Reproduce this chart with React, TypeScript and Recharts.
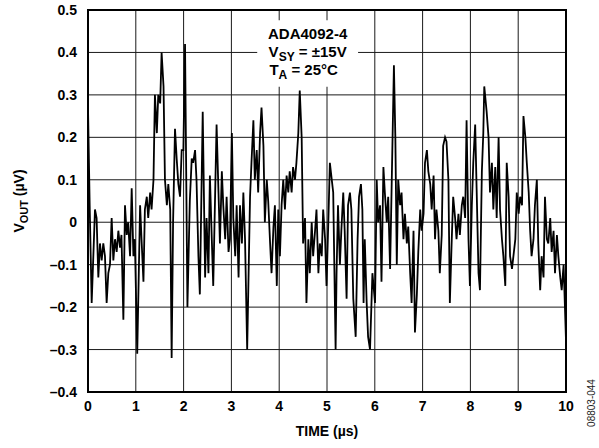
import { CartesianGrid, Label, Line, LineChart, ReferenceArea, XAxis, YAxis } from "recharts";

// VOUT trace (time in µs, voltage in µV) in five slices
const trace0to2: [number, number][] = [
  [0.0, 0.27], [0.035, 0.04], [0.077, -0.19], [0.146, 0.03], [0.18, 0.01], [0.216, -0.13],
  [0.25, -0.05], [0.286, -0.09], [0.32, -0.05], [0.355, -0.08], [0.39, -0.19], [0.425, -0.12],
  [0.46, -0.1], [0.495, 0.01], [0.53, -0.09], [0.565, -0.04], [0.6, -0.07], [0.635, -0.02],
  [0.67, -0.06], [0.7, -0.03], [0.74, -0.23], [0.774, 0.04], [0.81, -0.03], [0.84, 0.0],
  [0.88, -0.08], [0.914, 0.08], [0.95, -0.08], [0.98, -0.04], [1.03, -0.31], [1.09, 0.04],
  [1.12, -0.04], [1.16, -0.14], [1.19, 0.03], [1.23, 0.06], [1.26, 0.01], [1.3, 0.07],
  [1.33, 0.03], [1.37, 0.1], [1.4, 0.3], [1.44, 0.21], [1.47, 0.3], [1.51, 0.28],
  [1.54, 0.4], [1.58, 0.32], [1.61, 0.1], [1.65, 0.04], [1.68, 0.09], [1.72, 0.03],
  [1.75, -0.32], [1.78, 0.0], [1.82, 0.22], [1.855, 0.15], [1.89, 0.09], [1.925, 0.06],
  [1.96, 0.17],
];
const trace2to4: [number, number][] = [
  [1.995, 0.17], [2.03, 0.42], [2.08, -0.2], [2.13, 0.05], [2.17, 0.15], [2.2, 0.14],
  [2.24, 0.17], [2.27, 0.1], [2.31, -0.08], [2.34, -0.17], [2.4, 0.26], [2.45, -0.13],
  [2.48, 0.01], [2.52, -0.12], [2.55, 0.11], [2.59, -0.04], [2.62, -0.15], [2.69, 0.23],
  [2.73, 0.07], [2.76, -0.05], [2.8, 0.12], [2.83, 0.04], [2.87, -0.04], [2.9, 0.06],
  [2.94, -0.07], [2.97, -0.04], [3.01, 0.21], [3.04, 0.01], [3.08, -0.08], [3.11, 0.04],
  [3.15, -0.13], [3.18, 0.04], [3.22, -0.05], [3.25, 0.07], [3.285, -0.04], [3.33, -0.3],
  [3.39, 0.06], [3.42, 0.14], [3.46, 0.24], [3.49, 0.1], [3.53, 0.17], [3.56, 0.07],
  [3.6, 0.21], [3.63, 0.27], [3.67, 0.18], [3.7, 0.0], [3.74, 0.1], [3.77, 0.05],
  [3.81, -0.05], [3.84, -0.12], [3.88, -0.01], [3.91, 0.04], [3.95, -0.15], [3.98, 0.03],
];
const trace4to6: [number, number][] = [
  [4.015, -0.08], [4.05, 0.04], [4.085, 0.1], [4.12, 0.03], [4.155, 0.11], [4.19, 0.07],
  [4.22, 0.12], [4.26, 0.07], [4.29, 0.13], [4.33, 0.1], [4.36, 0.14], [4.4, 0.21],
  [4.43, 0.31], [4.47, 0.2], [4.5, -0.05], [4.54, 0.01], [4.57, -0.19], [4.61, -0.04],
  [4.64, -0.12], [4.68, 0.0], [4.71, -0.08], [4.75, -0.02], [4.78, 0.03], [4.82, -0.12],
  [4.85, -0.05], [4.89, -0.08], [4.92, 0.03], [4.96, -0.04], [4.99, -0.15], [5.03, 0.01],
  [5.06, 0.14], [5.1, 0.1], [5.13, 0.07], [5.18, -0.3], [5.2, -0.12], [5.23, 0.04],
  [5.27, -0.1], [5.3, -0.02], [5.34, 0.07], [5.37, -0.02], [5.41, -0.18], [5.44, 0.04],
  [5.48, 0.07], [5.51, 0.03], [5.55, -0.18], [5.6, -0.27], [5.64, -0.04], [5.67, 0.06],
  [5.71, 0.09], [5.74, 0.03], [5.765, -0.19], [5.79, -0.04], [5.83, -0.19], [5.86, -0.27],
  [5.9, -0.3], [5.95, -0.12],
];
const trace6to8: [number, number][] = [
  [6.005, -0.19], [6.04, 0.1], [6.07, 0.0], [6.11, 0.04], [6.14, -0.14], [6.18, 0.13],
  [6.21, 0.07], [6.25, 0.0], [6.28, 0.06], [6.32, -0.11], [6.35, 0.07], [6.4, 0.37],
  [6.43, 0.2], [6.46, -0.1], [6.49, 0.1], [6.53, 0.04], [6.56, 0.07], [6.6, -0.04],
  [6.63, 0.02], [6.67, -0.05], [6.7, -0.01], [6.74, -0.12], [6.77, -0.19], [6.81, -0.02],
  [6.84, -0.26], [6.88, -0.17], [6.91, -0.07], [6.95, 0.03], [6.98, -0.02], [7.02, 0.02],
  [7.05, 0.14], [7.09, 0.17], [7.12, 0.12], [7.16, 0.09], [7.19, 0.03], [7.23, 0.11],
  [7.26, -0.04], [7.29, 0.03], [7.33, -0.02], [7.36, -0.12], [7.4, -0.03], [7.43, 0.18],
  [7.47, 0.2], [7.5, 0.19], [7.54, 0.1], [7.57, -0.19], [7.61, -0.04], [7.64, 0.06],
  [7.68, 0.01], [7.71, -0.04], [7.75, 0.02], [7.78, -0.03], [7.82, 0.04], [7.85, 0.06],
  [7.89, 0.01], [7.92, 0.24], [7.96, -0.04], [7.99, -0.15],
];
const trace8to10: [number, number][] = [
  [8.03, 0.04], [8.06, 0.14], [8.1, 0.23], [8.13, 0.08], [8.17, -0.12], [8.2, -0.16],
  [8.24, 0.12], [8.27, 0.21], [8.29, 0.32], [8.34, 0.26], [8.38, 0.2], [8.41, 0.07],
  [8.45, 0.14], [8.48, 0.03], [8.52, 0.13], [8.55, 0.01], [8.59, 0.2], [8.62, 0.03],
  [8.66, -0.04], [8.69, -0.08], [8.73, -0.15], [8.76, 0.14], [8.8, 0.06], [8.83, -0.08],
  [8.87, -0.11], [8.9, -0.08], [8.94, -0.04], [8.97, 0.07], [9.01, 0.02], [9.04, 0.06],
  [9.08, 0.04], [9.11, 0.25], [9.15, 0.2], [9.18, 0.14], [9.22, 0.07], [9.25, -0.02],
  [9.28, -0.08], [9.32, -0.04], [9.35, 0.04], [9.39, 0.1], [9.42, -0.05], [9.46, -0.16],
  [9.49, -0.08], [9.53, -0.13], [9.56, 0.06], [9.6, -0.04], [9.63, -0.05], [9.67, 0.01],
  [9.7, -0.07], [9.74, -0.02], [9.77, -0.12], [9.81, -0.03], [9.84, -0.08], [9.88, -0.13],
  [9.91, -0.16], [9.95, -0.1], [10.0, -0.28],
];

const timeTicks = [0, 1, 2, 3, 4, 5, 6, 7, 8, 9, 10];
const voutTicks = [-0.4, -0.3, -0.2, -0.1, 0, 0.1, 0.2, 0.3, 0.4, 0.5];
const infoLines = { part: "ADA4092-4", supply: "= ±15V", temp: "= 25°C" };

const data = [...trace0to2, ...trace2to4, ...trace4to6, ...trace6to8, ...trace8to10].map(
  ([t, v]) => ({ t, v })
);

const FONT = "'Liberation Sans', Arial, Helvetica, sans-serif";
const tickStyle = { fontFamily: FONT, fontSize: 14, fontWeight: 700, fill: "#000" };

const fmtVout = (v: number) => {
  if (Math.abs(v) < 1e-9) return "0";
  return v < 0 ? `\u2013${Math.abs(v).toFixed(1)}` : v.toFixed(1);
};

function InfoBox({ viewBox }: any) {
  if (!viewBox) return null;
  const cx = viewBox.x + viewBox.width / 2;
  const top = viewBox.y;
  return (
    <text fontFamily={FONT} fontSize={15} fontWeight={700} fill="#000" textAnchor="middle">
      <tspan x={cx} y={top + 19}>{infoLines.part}</tspan>
      <tspan x={cx} y={top + 37}>
        V<tspan fontSize={12} dy={4}>SY</tspan>
        <tspan dy={-4}> {infoLines.supply}</tspan>
      </tspan>
      <tspan x={cx - 4} y={top + 55}>
        T<tspan fontSize={12} dy={4}>A</tspan>
        <tspan dy={-4}> {infoLines.temp}</tspan>
      </tspan>
    </text>
  );
}

function YTitle({ viewBox }: any) {
  if (!viewBox) return null;
  const x = viewBox.x + 24;
  const y = viewBox.y + viewBox.height / 2;
  return (
    <text
      x={x}
      y={y}
      transform={`rotate(-90 ${x} ${y})`}
      textAnchor="middle"
      fontFamily={FONT}
      fontSize={14}
      fontWeight={700}
      fill="#000"
    >
      V<tspan fontSize={11} dy={4}>OUT</tspan>
      <tspan dy={-4}> (µV)</tspan>
    </text>
  );
}

function XTitle({ viewBox }: any) {
  if (!viewBox) return null;
  return (
    <text
      x={viewBox.x + viewBox.width / 2}
      y={viewBox.y + 44}
      textAnchor="middle"
      fontFamily={FONT}
      fontSize={14}
      fontWeight={700}
      fill="#000"
    >
      TIME (µs)
    </text>
  );
}

export default function App() {
  return (
    <div style={{ position: "absolute", left: 0, top: 0, width: 599, height: 448, background: "#fff" }}>
      <LineChart
        width={599}
        height={448}
        data={data}
        margin={{ top: 10, right: 33, left: 0, bottom: 0 }}
      >
        <CartesianGrid stroke="#1a1a1a" strokeWidth={1} />
        <XAxis
          dataKey="t"
          type="number"
          domain={[0, 10]}
          ticks={timeTicks}
          interval={0}
          height={56}
          tickLine={false}
          tickSize={6}
          tickMargin={3}
          axisLine={false}
          tick={tickStyle}
        >
          <Label content={<XTitle />} />
        </XAxis>
        <YAxis
          dataKey="v"
          type="number"
          domain={[-0.4, 0.5]}
          ticks={voutTicks}
          interval={0}
          width={88}
          tickLine={false}
          tickSize={6}
          tickMargin={5}
          axisLine={false}
          tick={tickStyle}
          tickFormatter={fmtVout}
        >
          <Label content={<YTitle />} />
        </YAxis>
        <ReferenceArea
          x1={0}
          x2={10}
          y1={-0.4}
          y2={0.5}
          fill="none"
          stroke="#000"
          strokeWidth={2}
          ifOverflow="visible"
        />
        <Line
          type="linear"
          dataKey="v"
          stroke="#000"
          strokeWidth={1.8}
          dot={false}
          activeDot={false}
          isAnimationActive={false}
        />
        <ReferenceArea
          x1={3.54}
          x2={5.65}
          y1={0.319}
          y2={0.476}
          fill="#fff"
          fillOpacity={1}
          stroke="none"
          label={<InfoBox />}
        />
      </LineChart>
      <svg
        width={20}
        height={90}
        style={{ position: "absolute", left: 581, top: 358 }}
      >
        <text
          x={14}
          y={45}
          transform="rotate(-90 14 45)"
          textAnchor="middle"
          fontFamily={FONT}
          fontSize={10}
          fill="#222"
        >
          08803-044
        </text>
      </svg>
    </div>
  );
}
